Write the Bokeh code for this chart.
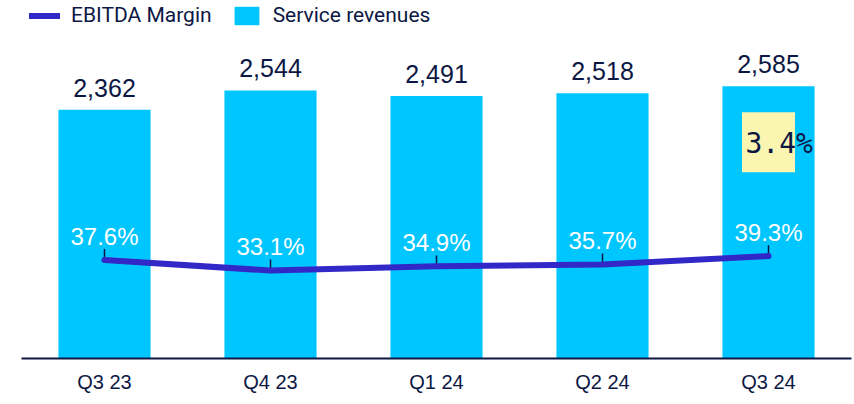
from bokeh.plotting import figure
from bokeh.models import (ColumnDataSource, Range1d, FactorRange, Legend, LegendItem)
from bokeh.core.properties import value
from bokeh.embed import file_html
from bokeh.resources import INLINE

# ---- data ----
categories = ["Q3 23", "Q4 23", "Q1 24", "Q2 24", "Q3 24"]
service_revenues = [2362, 2544, 2491, 2518, 2585]
ebitda_margin = [37.6, 33.1, 34.9, 35.7, 39.3]
revenue_labels = [f"{v:,}" for v in service_revenues]
margin_labels = [f"{v}%" for v in ebitda_margin]
highlight_category = ["Q3 24"]
highlight_text = ["3.4%"]

# ---- style ----
NAVY = "#0c1744"
CYAN = "#00C6FF"
LINE = "#3228C8"
YELLOW = "#FAF6B2"

src = ColumnDataSource(dict(cat=categories, rev=service_revenues, margin=ebitda_margin,
                            rev_lab=revenue_labels, m_lab=margin_labels,
                            tick_top=[m + 4.7 for m in ebitda_margin]))

p = figure(x_range=FactorRange(*categories, range_padding=0), y_range=Range1d(0, 3398),
           width=854, height=404, output_backend="svg", toolbar_location=None,
           min_border_left=21, min_border_right=3, min_border_top=0, min_border_bottom=46,
           y_axis_location=None)
p.extra_y_ranges = {"margin": Range1d(-4.65, 149.0)}

p.outline_line_color = None
p.xgrid.visible = False
p.ygrid.visible = False
p.background_fill_color = "white"
p.border_fill_color = "white"

xa = p.xaxis[0]
xa.axis_line_color = NAVY
xa.axis_line_width = 2
xa.major_tick_line_color = None
xa.minor_tick_line_color = None
xa.major_tick_out = 0
xa.major_tick_in = 0
xa.minor_tick_out = 0
xa.major_label_standoff = 12
xa.major_label_text_font = "Liberation Sans"
xa.major_label_text_font_size = "20px"
xa.major_label_text_color = NAVY

bars = p.vbar(x="cat", top="rev", width=0.555, source=src, fill_color=CYAN, line_color=None)

p.segment(x0="cat", y0="margin", x1="cat", y1="tick_top", source=src, y_range_name="margin",
          line_color=NAVY, line_width=1.5)

line = p.line(x="cat", y="margin", source=src, y_range_name="margin",
              line_color=LINE, line_width=6, line_cap="round", line_join="round")

p.text(x="cat", y="rev", text="rev_lab", source=src, y_offset=-22,
       text_align="center", text_baseline="alphabetic", text_color=NAVY,
       text_font=value("Liberation Sans"), text_font_size="25px")

p.text(x="cat", y="margin", text="m_lab", source=src, y_range_name="margin", y_offset=-24,
       text_align="center", text_baseline="alphabetic", text_color="white",
       text_font=value("Liberation Sans"), text_font_size="24px")

# highlighted annotation box
p.rect(x=highlight_category, y=[2053], width=53, height=60, width_units="screen",
       height_units="screen", fill_color=YELLOW, line_color=None)
p.text(x=highlight_category, y=[2053], text=highlight_text, x_offset=-23, y_offset=1,
       text_align="left", text_baseline="alphabetic", text_color=NAVY,
       text_font=value("DejaVu Sans Mono"), text_font_size="28px")

legend = Legend(items=[LegendItem(label="EBITDA Margin", renderers=[line]),
                       LegendItem(label="Service revenues", renderers=[bars])],
                location=(8, 331), orientation="horizontal", padding=0, margin=0,
                spacing=19, label_standoff=11, glyph_width=31, glyph_height=23,
                label_text_font="Roboto", label_text_font_size="21px",
                label_text_color=NAVY, background_fill_alpha=0, border_line_alpha=0)
p.add_layout(legend)

open("out.html", "w").write(file_html(p, INLINE))
